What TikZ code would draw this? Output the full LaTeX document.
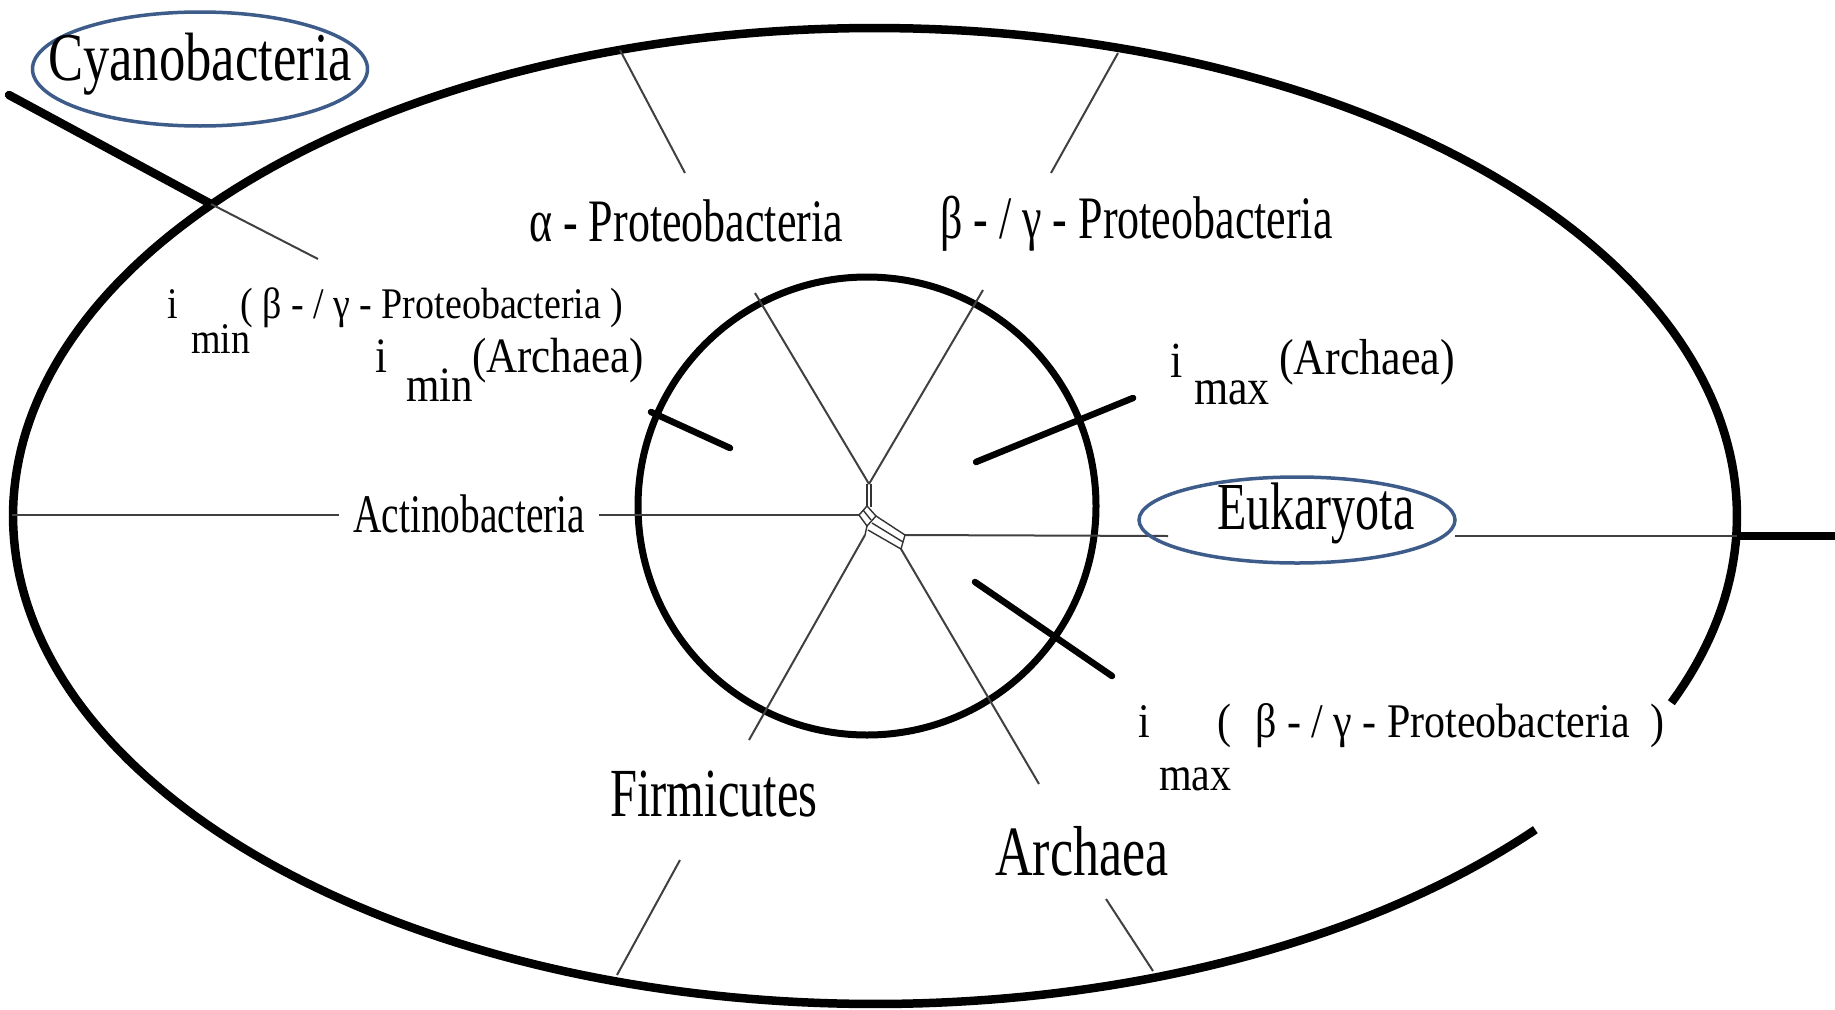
\documentclass[tikz,border=0pt]{standalone}
\usepackage{fontspec}
\setmainfont{Liberation Serif}
\usepackage{graphicx}
\usetikzlibrary{shapes.geometric}
\definecolor{bluec}{RGB}{62,92,138}
\newcommand{\ys}[2]{\scalebox{1}[#1]{#2}}
\newcommand{\fs}[1]{\fontsize{#1}{#1}\selectfont}
\begin{document}
\begin{tikzpicture}[x=1pt,y=-1pt,
  heavy/.style={line width=8.5pt},
  bar/.style={line width=6.5pt,line cap=round},
  fine/.style={line width=2pt,draw=black!75},
  hub/.style={line width=1.4pt,draw=black!80},
  blueel/.style={draw=bluec,line width=3.5pt,ellipse,inner sep=0pt},
  lbl/.style={inner sep=0pt,anchor=base west}]
\useasboundingbox (0,0) rectangle (1835,1009);
\fill[white] (0,0) rectangle (1835,1009);

% big ellipse (open in the lower right)
\draw[heavy] plot[domain=40:382.5,samples=300] ({875+862*cos(\x)},{516+488*sin(\x)});
% inner circle
\draw[line width=7pt] (867,506) circle[radius=229pt];

% coordinates
\coordinate (hubA) at (869,484);
\coordinate (hubL) at (859,515);
\coordinate (hubF) at (865,535);
\coordinate (hubR) at (905,535);
\coordinate (hubS) at (901,549);

% alpha line
\coordinate (a1) at (620,50); \coordinate (a2) at (685,173); \coordinate (a3) at (755,293);
\draw[fine] (a1) -- (a2);
\draw[fine] (a3) -- (hubA);
% beta/gamma line
\coordinate (b1) at (1118,53); \coordinate (b2) at (1051,173); \coordinate (b3) at (983,290);
\draw[fine] (b1) -- (b2);
\draw[fine] (b3) -- (hubA);
% actinobacteria line
\coordinate (l1) at (12,515); \coordinate (l2) at (339,515); \coordinate (l3) at (599,515);
\draw[fine] (l1) -- (l2);
\draw[fine] (l3) -- (hubL);
% firmicutes line
\coordinate (f1) at (749,740); \coordinate (f2) at (680,860); \coordinate (f3) at (617,975);
\draw[fine] (hubF) -- (f1);
\draw[fine] (f2) -- (f3);
% archaea line
\coordinate (r1) at (1039,784); \coordinate (r2) at (1106,899); \coordinate (r3) at (1153,971);
\draw[fine] (hubS) -- (r1);
\draw[fine] (r2) -- (r3);
% eukaryota line
\coordinate (e1) at (1168,536); \coordinate (e2) at (1455,536); \coordinate (e3) at (1737,536); \coordinate (e4) at (1835,536);
\draw[fine] (hubR) -- (e1);
\draw[fine] (e2) -- (e3);
\draw[heavy] (e3) -- (e4);

% hub detail
\draw[hub] (867,484) -- (867,507) (871,484) -- (871,507);
\draw[hub] (hubL) -- (867,506) -- (876,516) -- (867,526) -- cycle;
\draw[hub] (863,510) -- (871,520) (867,526) -- (hubF);
\draw[hub] (876,516) -- (hubR) (872,523) -- (903,542) (868,530) -- (hubS) (hubR) -- (hubS);

% cyanobacteria line
\coordinate (c1) at (9,95); \coordinate (c2) at (211,204); \coordinate (c3) at (318,259);
\draw[heavy,line cap=round] (c1) -- (c2);
\draw[fine] (c2) -- (c3);

% marker bars
\draw[bar] (651,412) -- (730,448);
\draw[bar] (976,462) -- (1133,398);
\draw[bar] (975,582) -- (1112,676);

% blue ellipses
\node[blueel,minimum width=335pt,minimum height=114pt] (cyanoEl) at (200,69) {};
\node[blueel,minimum width=316pt,minimum height=86pt] (eukEl) at (1297,520) {};

% labels
\node[lbl] (cyano) at (48,80) {\fs{52.6}\ys{1.3}{Cyanobacteria}};
\node[lbl] (alpha) at (529,241) {\fs{44}\ys{1.37}{α - Proteobacteria}};
\node[lbl] (betagamma) at (940,238) {\fs{44}\ys{1.37}{β - / γ - Proteobacteria}};
\node[lbl] (actino) at (353,532) {\fs{39.4}\ys{1.38}{Actinobacteria}};
\node[lbl] (firmi) at (610,816) {\fs{48.5}\ys{1.42}{Firmicutes}};
\node[lbl] (archaea) at (995,875) {\fs{52}\ys{1.36}{Archaea}};
\node[lbl] (euk) at (1217,529) {\fs{48}\ys{1.4}{Eukaryota}};

\node[lbl] (iminBi) at (167,318) {\fs{38}\ys{1.15}{i}};
\node[lbl] (iminBs) at (191,353) {\fs{38}\ys{1.15}{min}};
\node[lbl] (iminBa) at (240,318) {\fs{38}\ys{1.15}{( β - / γ - Proteobacteria )}};

\node[lbl] (iminAi) at (375,372) {\fs{43}\ys{1.15}{i}};
\node[lbl] (iminAs) at (406,401) {\fs{43}\ys{1.15}{min}};
\node[lbl] (iminAa) at (472,372) {\fs{43}\ys{1.15}{(Archaea)}};

\node[lbl] (imaxAi) at (1170,377) {\fs{44}\ys{1.15}{i}};
\node[lbl] (imaxAs) at (1194,404) {\fs{44}\ys{1.15}{max}};
\node[lbl] (imaxAa) at (1279,374) {\fs{44}\ys{1.15}{(Archaea)}};

\node[lbl] (imaxBi) at (1138,737) {\fs{42}\ys{1.15}{i}};
\node[lbl] (imaxBs) at (1159,790) {\fs{42}\ys{1.15}{max}};
\node[lbl] (imaxBl) at (1217,737) {\fs{42}\ys{1.15}{(}};
\node[lbl] (imaxBa) at (1255,737) {\fs{42}\ys{1.15}{β - / γ - Proteobacteria}};
\node[lbl] (imaxBr) at (1650,737) {\fs{42}\ys{1.15}{)}};
\end{tikzpicture}
\end{document}
